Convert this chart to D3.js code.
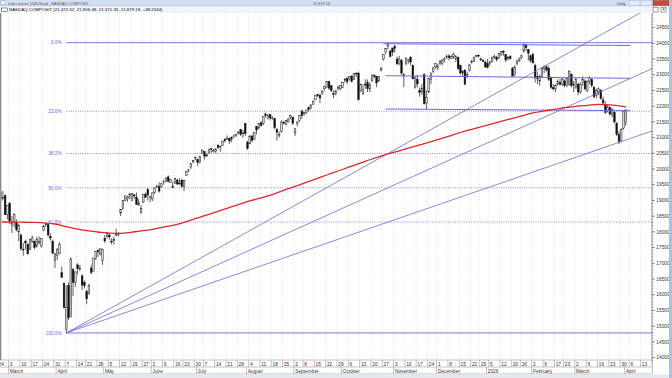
<!DOCTYPE html>
<html>
<head>
<meta charset="utf-8">
<title>NASDAQ COMPOSIT - Daily</title>
<script src="https://d3js.org/d3.v7.min.js"></script>
<style>
  body { margin: 0; background: #fff; }
  svg { display: block; font-family: "Liberation Sans", Arial, sans-serif; }
</style>
</head>
<body>
<div id="chart"></div>
<script>
// daily candles: [date, open, high, low, close]
const q1_2025 = [
  ["2025-02-24",19600,19620,19260,19287],["2025-02-25",19270,19300,18900,19026],["2025-02-26",19100,19300,19000,19075],
  ["2025-02-27",19150,19200,18540,18544],["2025-02-28",18550,18850,18400,18847],["2025-03-03",18900,18950,18250,18350],
  ["2025-03-04",18200,18500,17960,18285],["2025-03-05",18300,18600,18150,18553],["2025-03-06",18300,18400,18020,18069],
  ["2025-03-07",18000,18250,17700,18196],["2025-03-10",17900,17950,17400,17468],["2025-03-11",17450,17650,17240,17436],
  ["2025-03-12",17700,17750,17450,17648],["2025-03-13",17600,17650,17280,17303],["2025-03-14",17450,17780,17420,17754],
  ["2025-03-17",17700,17880,17650,17808],["2025-03-18",17700,17720,17450,17504],["2025-03-19",17550,17850,17500,17750],
  ["2025-03-20",17650,17850,17600,17692],["2025-03-21",17550,17800,17500,17784],["2025-03-24",18050,18210,18020,18188],
  ["2025-03-25",18220,18290,18160,18272],["2025-03-26",18240,18250,17850,17900],["2025-03-27",17850,17950,17720,17804],
  ["2025-03-28",17700,17750,17300,17323],["2025-03-31",17100,17330,16850,17299]
];
const q2_2025 = [
  ["2025-04-01",17250,17480,17100,17450],["2025-04-02",17300,17670,17300,17601],["2025-04-03",16700,16900,16540,16551],
  ["2025-04-04",16350,16400,15580,15588],["2025-04-07",14900,16300,14784,15603],["2025-04-08",16300,16400,15200,15268],
  ["2025-04-09",15300,17200,15270,17125],["2025-04-10",16800,16850,15950,16387],["2025-04-11",16400,16750,16250,16724],
  ["2025-04-14",16950,17000,16650,16831],["2025-04-15",16850,16950,16750,16823],["2025-04-16",16600,16650,16150,16307],
  ["2025-04-17",16400,16450,16200,16286],["2025-04-21",16100,16150,15700,15871],["2025-04-22",16050,16350,16000,16300],
  ["2025-04-23",16850,16950,16650,16708],["2025-04-24",16750,17180,16750,17166],["2025-04-25",17150,17390,17100,17383],
  ["2025-04-28",17400,17450,17200,17366],["2025-04-29",17300,17480,17250,17461],["2025-04-30",17100,17470,16950,17446],
  ["2025-05-01",17800,17900,17650,17710],["2025-05-02",17850,18000,17800,17977],["2025-05-05",17900,17950,17750,17844],
  ["2025-05-06",17700,17800,17600,17690],["2025-05-07",17750,17850,17600,17738],["2025-05-08",17900,18100,17850,17928],
  ["2025-05-09",17950,18000,17850,17929],["2025-05-12",18600,18710,18500,18708],["2025-05-13",18750,19010,18700,18997],
  ["2025-05-14",19000,19150,18980,19146],["2025-05-15",19050,19150,18950,19112],["2025-05-16",19130,19220,19050,19211],
  ["2025-05-19",19000,19230,18990,19215],["2025-05-20",19180,19200,19050,19143],["2025-05-21",19100,19250,18850,18873],
  ["2025-05-22",18850,19050,18850,18925],["2025-05-23",18600,18850,18600,18737],["2025-05-27",18950,19200,18920,19199],
  ["2025-05-28",19200,19260,19090,19101],["2025-05-29",19350,19400,19000,19175],["2025-05-30",19100,19150,18950,19114],
  ["2025-06-02",19050,19250,18980,19243],["2025-06-03",19250,19420,19200,19399],["2025-06-04",19420,19500,19400,19460],
  ["2025-06-05",19450,19580,19250,19298],["2025-06-06",19450,19560,19400,19530],["2025-06-09",19580,19650,19500,19591],
  ["2025-06-10",19600,19730,19580,19715],["2025-06-11",19750,19800,19570,19615],["2025-06-12",19580,19680,19560,19662],
  ["2025-06-13",19450,19600,19380,19407],["2025-06-16",19550,19720,19540,19701],["2025-06-17",19650,19680,19500,19521],
  ["2025-06-18",19550,19700,19500,19546],["2025-06-20",19650,19680,19400,19447],["2025-06-23",19450,19650,19300,19631],
  ["2025-06-24",19800,19930,19780,19913],["2025-06-25",19960,20000,19900,19974],["2025-06-26",20050,20180,20000,20168],
  ["2025-06-27",20230,20290,20180,20273],["2025-06-30",20350,20400,20280,20370]
];
const q3_2025 = [
  ["2025-07-01",20300,20330,20100,20202],["2025-07-02",20200,20400,20180,20393],["2025-07-03",20500,20620,20480,20601],
  ["2025-07-07",20550,20580,20300,20412],["2025-07-08",20450,20500,20380,20418],["2025-07-09",20500,20650,20480,20611],
  ["2025-07-10",20650,20660,20520,20630],["2025-07-11",20550,20640,20520,20585],["2025-07-14",20560,20650,20500,20640],
  ["2025-07-15",20750,20800,20650,20677],["2025-07-16",20700,20740,20550,20730],["2025-07-17",20750,20900,20740,20885],
  ["2025-07-18",20950,20980,20850,20896],["2025-07-21",20950,21070,20940,20974],["2025-07-22",20980,21000,20800,20892],
  ["2025-07-23",20950,21030,20850,21020],["2025-07-24",21050,21100,20980,21057],["2025-07-25",21080,21110,21020,21108],
  ["2025-07-28",21150,21200,21100,21178],["2025-07-29",21250,21280,21050,21098],["2025-07-30",21150,21250,20990,21130],
  ["2025-07-31",21450,21460,21050,21122],["2025-08-01",20850,20900,20620,20650],["2025-08-04",20800,21060,20790,21053],
  ["2025-08-05",21050,21100,20850,20916],["2025-08-06",20950,21180,20920,21169],["2025-08-07",21350,21370,21100,21242],
  ["2025-08-08",21300,21460,21280,21450],["2025-08-11",21470,21520,21350,21385],["2025-08-12",21450,21690,21400,21681],
  ["2025-08-13",21750,21800,21650,21713],["2025-08-14",21600,21750,21580,21711],["2025-08-15",21730,21750,21550,21623],
  ["2025-08-18",21600,21680,21570,21630],["2025-08-19",21600,21620,21270,21315],["2025-08-20",21250,21300,20900,21172],
  ["2025-08-21",21100,21200,21000,21100],["2025-08-22",21200,21550,21150,21497],["2025-08-25",21480,21530,21420,21449],
  ["2025-08-26",21420,21560,21400,21544],["2025-08-27",21500,21620,21480,21590],["2025-08-28",21650,21730,21580,21705],
  ["2025-08-29",21650,21670,21400,21456],["2025-09-02",21150,21300,21050,21280],["2025-09-03",21450,21520,21350,21498],
  ["2025-09-04",21550,21710,21500,21707],["2025-09-05",21850,21880,21600,21700],["2025-09-08",21750,21820,21700,21798],
  ["2025-09-09",21800,21880,21750,21879],["2025-09-10",21950,21990,21820,21886],["2025-09-11",21920,22050,21900,22043],
  ["2025-09-12",22050,22180,22050,22141],["2025-09-15",22200,22360,22200,22349],["2025-09-16",22370,22390,22290,22333],
  ["2025-09-17",22340,22400,22100,22261],["2025-09-18",22400,22520,22350,22471],["2025-09-19",22550,22650,22500,22631],
  ["2025-09-22",22600,22800,22580,22789],["2025-09-23",22780,22810,22520,22573],["2025-09-24",22650,22670,22450,22497],
  ["2025-09-25",22400,22500,22250,22385],["2025-09-26",22400,22520,22340,22484],["2025-09-29",22560,22650,22500,22591],
  ["2025-09-30",22550,22670,22500,22660]
];
const q4_2025 = [
  ["2025-10-01",22600,22780,22580,22755],["2025-10-02",22850,22900,22750,22844],["2025-10-03",22880,22930,22700,22780],
  ["2025-10-06",22880,22960,22820,22941],["2025-10-07",22960,22980,22750,22788],["2025-10-08",22850,23050,22840,23044],
  ["2025-10-09",23050,23080,22930,23024],["2025-10-10",23050,23100,22180,22204],["2025-10-13",22500,22720,22450,22695],
  ["2025-10-14",22400,22700,22350,22521],["2025-10-15",22700,22850,22550,22670],["2025-10-16",22750,22850,22450,22562],
  ["2025-10-17",22550,22750,22450,22680],["2025-10-20",22800,23000,22780,22991],["2025-10-21",22980,23020,22880,22953],
  ["2025-10-22",22950,22970,22600,22740],["2025-10-23",22800,22960,22780,22942],["2025-10-24",23150,23250,23100,23205],
  ["2025-10-27",23500,23650,23450,23637],["2025-10-28",23700,23850,23650,23827],["2025-10-29",23900,24020,23800,23958],
  ["2025-10-30",23750,23800,23550,23581],["2025-10-31",23850,23860,23600,23725],["2025-11-03",23900,23950,23700,23835],
  ["2025-11-04",23500,23580,23300,23349],["2025-11-05",23350,23600,23300,23500],["2025-11-06",23450,23500,23000,23054],
  ["2025-11-07",22950,23050,22600,23005],["2025-11-10",23350,23550,23300,23528],["2025-11-11",23450,23500,23350,23468],
  ["2025-11-12",23550,23590,23300,23406],["2025-11-13",23300,23330,22850,22871],["2025-11-14",22600,22950,22560,22901],
  ["2025-11-17",22850,23000,22600,22709],["2025-11-18",22500,22600,22300,22433],["2025-11-19",22450,22700,22350,22564],
  ["2025-11-20",23000,23050,22050,22078],["2025-11-21",22100,22500,21900,22273],["2025-11-24",22450,22900,22420,22873],
  ["2025-11-25",22850,23080,22700,23026],["2025-11-26",23100,23250,23050,23215],["2025-11-28",23250,23370,23200,23366],
  ["2025-12-01",23200,23350,23150,23276],["2025-12-02",23350,23480,23300,23414],["2025-12-03",23350,23500,23300,23454],
  ["2025-12-04",23500,23550,23400,23506],["2025-12-05",23550,23650,23500,23578],["2025-12-08",23600,23650,23450,23546],
  ["2025-12-09",23520,23620,23500,23576],["2025-12-10",23580,23700,23500,23654],["2025-12-11",23500,23620,23400,23594],
  ["2025-12-12",23550,23580,23150,23195],["2025-12-15",23300,23320,23000,23057],["2025-12-16",23050,23150,22950,23111],
  ["2025-12-17",23150,23180,22690,22693],["2025-12-18",23000,23100,22900,23006],["2025-12-19",23150,23350,23100,23307],
  ["2025-12-22",23400,23480,23350,23428],["2025-12-23",23420,23570,23400,23562],["2025-12-24",23580,23620,23550,23613],
  ["2025-12-26",23620,23650,23550,23593],["2025-12-29",23500,23550,23430,23474],["2025-12-30",23450,23500,23400,23419],
  ["2025-12-31",23400,23450,23230,23242]
];
const q1_2026 = [
  ["2026-01-02",23350,23500,23200,23240],["2026-01-05",23350,23450,23280,23395],["2026-01-06",23420,23570,23380,23547],
  ["2026-01-07",23550,23650,23500,23584],["2026-01-08",23550,23600,23420,23480],["2026-01-09",23520,23680,23500,23671],
  ["2026-01-12",23650,23760,23600,23733],["2026-01-13",23750,23780,23600,23710],["2026-01-14",23650,23660,23400,23471],
  ["2026-01-15",23550,23600,23450,23530],["2026-01-16",23580,23620,23480,23515],["2026-01-20",23200,23250,22950,22954],
  ["2026-01-21",23000,23300,22950,23224],["2026-01-22",23350,23480,23300,23436],["2026-01-23",23450,23550,23400,23501],
  ["2026-01-26",23550,23650,23500,23601],["2026-01-27",23750,24010,23700,23950],["2026-01-28",23950,23980,23750,23860],
  ["2026-01-29",23800,23820,23450,23685],["2026-01-30",23600,23650,23380,23461],["2026-02-02",23650,23700,23350,23380],
  ["2026-02-03",23300,23350,22750,22900],["2026-02-04",22950,23100,22700,22880],["2026-02-05",22800,23000,22650,22950],
  ["2026-02-06",22950,23250,22900,23200],["2026-02-09",23200,23300,23050,23250],["2026-02-10",23250,23300,23100,23150],
  ["2026-02-11",23200,23280,22800,22850],["2026-02-12",22900,22950,22550,22600],["2026-02-13",22600,22700,22500,22550],
  ["2026-02-17",22550,22700,22450,22650],["2026-02-18",22700,22850,22650,22780],["2026-02-19",22750,22880,22650,22700],
  ["2026-02-20",22700,22900,22650,22860],["2026-02-23",22800,22850,22600,22650],["2026-02-24",22650,22900,22600,22880],
  ["2026-02-25",22700,23150,22650,23100],["2026-02-26",23000,23050,22600,22650],["2026-02-27",22650,22800,22450,22700],
  ["2026-03-02",22600,22900,22550,22850],["2026-03-03",22700,22750,22350,22450],["2026-03-04",22450,22750,22400,22700],
  ["2026-03-05",22750,22950,22650,22850],["2026-03-06",22800,22850,22500,22550],["2026-03-09",22500,22820,22450,22780],
  ["2026-03-10",22800,22950,22700,22900],["2026-03-11",22850,22880,22600,22650],["2026-03-12",22600,22650,22250,22300],
  ["2026-03-13",22350,22550,22250,22500],["2026-03-16",22450,22600,22350,22550],["2026-03-17",22500,22550,22200,22250],
  ["2026-03-18",22200,22300,22050,22100],["2026-03-19",22050,22150,21750,21800],["2026-03-20",21850,22050,21800,21950],
  ["2026-03-23",21950,22000,21700,21750],["2026-03-24",21750,21950,21650,21900],["2026-03-25",21800,21850,21450,21500],
  ["2026-03-26",21450,21500,21050,21100],["2026-03-27",21100,21200,20790,20880],["2026-03-30",20900,21300,20850,21250],
  ["2026-03-31",21300,21850,21250,21841],["2026-04-01",21472.52,21906.48,21371.33,21879.18]
];

// 200-day average, one value per week start (last one at the final candle)
const maValues = [
  18314,18314,18308,18302,18289,18251,18165,18089,18041,17996,17958,17951,17993,18037,18082,18152,18225,18305,18422,18515,
  18632,18750,18868,18983,19081,19186,19323,19447,19552,19680,19810,19937,20065,20192,20319,20437,20541,20643,20745,20850,
  20936,21047,21162,21264,21343,21420,21515,21614,21690,21786,21849,21903,21951,21996,22027,22059,22043,21999,21973
];

const holidays = ["2025-04-18","2025-05-26","2025-06-19","2025-07-04","2025-09-01","2025-11-27","2025-12-25",
                  "2026-01-01","2026-01-19","2026-02-16","2026-04-03"];
const monthNames = ["2026","February","March","April","May","June","July","August","September","October","November","December"];
const priceTicks = [14000,14500,15000,15500,16000,16500,17000,17500,18000,18500,19000,19500,20000,20500,21000,21500,22000,22500,23000,23500,24000,24500];

const swingLow = { date: "2025-04-07", price: 14784 };
const swingHigh = { date: "2025-10-29", price: 24020 };
const fibLevels = [0, 0.236, 0.382, 0.5, 0.618, 1];
const fibLabels = ["0.0%", "23.6%", "38.2%", "50.0%", "61.8%", "100.0%"];
const fanLevels = [0.382, 0.5, 0.618];
// hand drawn lines: [from date, price, to date, price]
const trendLines = [
  ["2025-10-27", 23985, "2026-04-06", 23930],
  ["2025-10-28", 22969, "2026-04-06", 22886],
  ["2025-10-28", 21910, "2026-04-06", 21856]
];

const titleText = "Indici marzo 2026.Nasd - NASDAQ COMPOSIT";
const lastText = "21,879.18";
const legendText = "NASDAQ COMPOSIT (21,472.52, 21,906.48, 21,371.33, 21,879.18, +38.2344)";

const W = 672, H = 378;
const plot = { left: 1.5, right: 652, top: 13, bottom: 360 };
const blue = "#6b6be0";

const fmt = d3.utcFormat("%Y-%m-%d");
const parse = d3.utcParse("%Y-%m-%d");
const days = d3.utcDay.range(parse("2025-02-24"), parse("2026-04-21"))
  .filter(d => d.getUTCDay() > 0 && d.getUTCDay() < 6 && !holidays.includes(fmt(d)))
  .map(fmt);

const candles = [].concat(q1_2025, q2_2025, q3_2025, q4_2025, q1_2026);

const x = d3.scaleBand().domain(days).range([-2.8, -2.8 + days.length * 2.265]);
const cx = d => x(d) + x.bandwidth() / 2;
const y = d3.scaleLinear().domain([14000, 24000]).range([357.6, 43.3]);

// week and month starts
const weekStarts = days.filter((d, i) => i === 0 ||
  +d3.utcMonday.floor(parse(d)) !== +d3.utcMonday.floor(parse(days[i - 1])));
const monthStarts = days.filter((d, i) => i > 0 && d.slice(0, 7) !== days[i - 1].slice(0, 7));

const svg = d3.select("#chart").append("svg")
  .attr("width", W).attr("height", H);

svg.append("rect").attr("width", W).attr("height", H).attr("fill", "#fff");

// title bars
svg.append("rect").attr("x", 0).attr("y", 0).attr("width", W).attr("height", 6).attr("fill", "#d3e0f1");
svg.append("line").attr("x1", 0).attr("x2", W).attr("y1", 6).attr("y2", 6).attr("stroke", "#a3b9d8").attr("stroke-width", 0.8);
svg.append("rect").attr("x", 0).attr("y", 6.4).attr("width", W).attr("height", 6.6).attr("fill", "#f1f4f9");
svg.append("rect").attr("x", 1).attr("y", 0.8).attr("width", 4).attr("height", 4).attr("fill", "#fff").attr("stroke", "#777").attr("stroke-width", 0.4);
svg.append("text").attr("x", 8).attr("y", 4.6).attr("font-size", 3.8).attr("fill", "#555").text(titleText);
svg.append("text").attr("x", 313).attr("y", 4.6).attr("font-size", 3.8).attr("fill", "#555").text(lastText);
svg.append("text").attr("x", 617).attr("y", 4.6).attr("font-size", 3.8).attr("fill", "#444").text("Daily");
[[629, "#e3ebf6"], [641, "#e3ebf6"]].forEach(([bx, c]) =>
  svg.append("rect").attr("x", bx).attr("y", 0.5).attr("width", 11).attr("height", 5).attr("fill", c).attr("stroke", "#9fb3cf").attr("stroke-width", 0.4));
svg.append("rect").attr("x", 653).attr("y", 0.5).attr("width", 16).attr("height", 5).attr("fill", "#c8483a").attr("stroke", "#8a2a20").attr("stroke-width", 0.4);
svg.append("rect").attr("x", 1.5).attr("y", 8).attr("width", 6).attr("height", 3.5).attr("fill", "#fff").attr("stroke", "#333").attr("stroke-width", 0.5);
svg.append("text").attr("x", 9).attr("y", 11.3).attr("font-size", 4.4).attr("fill", "#111").text(legendText);
svg.append("rect").attr("x", 653).attr("y", 7.5).attr("width", 5).attr("height", 4.5).attr("fill", "#fff").attr("stroke", "#555").attr("stroke-width", 0.5);
svg.append("rect").attr("x", 661).attr("y", 7.5).attr("width", 5).attr("height", 4.5).attr("fill", "#fff").attr("stroke", "#555").attr("stroke-width", 0.5);
svg.append("text").attr("x", 663.5).attr("y", 11.4).attr("font-size", 4.5).attr("text-anchor", "middle").attr("fill", "#222").text("×");

// plot area
svg.append("clipPath").attr("id", "clip").append("rect")
  .attr("x", plot.left).attr("y", plot.top)
  .attr("width", plot.right - plot.left).attr("height", plot.bottom - plot.top);
const g = svg.append("g").attr("clip-path", "url(#clip)");

g.selectAll("line.grid").data(weekStarts).join("line")
  .attr("class", "grid")
  .attr("x1", d => x(d)).attr("x2", d => x(d))
  .attr("y1", plot.top).attr("y2", plot.bottom)
  .attr("stroke", "#c9c9c9").attr("stroke-width", 0.6).attr("stroke-dasharray", "1,2");

// candles
const bw = 1.7;
g.selectAll("line.wick").data(candles).join("line")
  .attr("class", "wick")
  .attr("x1", d => cx(d[0])).attr("x2", d => cx(d[0]))
  .attr("y1", d => y(d[2])).attr("y2", d => y(d[3]))
  .attr("stroke", "#1a1a1a").attr("stroke-width", 0.7);
g.selectAll("rect.body").data(candles).join("rect")
  .attr("class", "body")
  .attr("x", d => cx(d[0]) - bw / 2)
  .attr("y", d => y(Math.max(d[1], d[4])))
  .attr("width", bw)
  .attr("height", d => Math.max(0.7, Math.abs(y(d[1]) - y(d[4]))))
  .attr("fill", d => d[4] >= d[1] ? "#d6d6d6" : "#111")
  .attr("stroke", "#1a1a1a").attr("stroke-width", 0.45);

// fibonacci retracement
const range = swingHigh.price - swingLow.price;
const lowX = cx(swingLow.date), highX = cx(swingHigh.date);
fibLevels.forEach((f, i) => {
  const v = swingHigh.price - f * range;
  const solid = f === 0 || f === 1;
  g.append("line")
    .attr("x1", lowX).attr("x2", plot.right)
    .attr("y1", y(v)).attr("y2", y(v))
    .attr("stroke", blue).attr("stroke-width", solid ? 0.9 : 0.8)
    .attr("stroke-dasharray", solid ? null : "1,1.3");
  svg.append("text")
    .attr("x", lowX - 4.5).attr("y", y(v) + 1.7)
    .attr("text-anchor", "end").attr("font-size", 4.8)
    .attr("fill", blue).text(fibLabels[i]);
});

// fibonacci fan from the low
fanLevels.forEach(f => {
  const v = swingHigh.price - f * range;
  const slope = (y(v) - y(swingLow.price)) / (highX - lowX);
  g.append("line")
    .attr("x1", lowX).attr("y1", y(swingLow.price))
    .attr("x2", plot.right).attr("y2", y(swingLow.price) + slope * (plot.right - lowX))
    .attr("stroke", blue).attr("stroke-width", 0.8);
});

trendLines.forEach(t => {
  g.append("line")
    .attr("x1", cx(t[0])).attr("y1", y(t[1]))
    .attr("x2", cx(t[2])).attr("y2", y(t[3]))
    .attr("stroke", blue).attr("stroke-width", 1);
});

// moving average
const maPoints = weekStarts.slice(0, maValues.length - 1).map((d, i) => [d, maValues[i]]);
maPoints.push([candles[candles.length - 1][0], maValues[maValues.length - 1]]);
g.append("path")
  .datum(maPoints)
  .attr("fill", "none").attr("stroke", "#e0282a").attr("stroke-width", 1.3)
  .attr("d", d3.line().x(d => cx(d[0])).y(d => y(d[1])).curve(d3.curveMonotoneX));

// left border
svg.append("line").attr("x1", 0.7).attr("x2", 0.7).attr("y1", plot.top).attr("y2", 374)
  .attr("stroke", "#8c8c8c").attr("stroke-width", 1.4);

// right price axis
const ya = svg.append("g");
ya.append("line").attr("x1", plot.right).attr("x2", plot.right).attr("y1", plot.top).attr("y2", 374)
  .attr("stroke", "#666").attr("stroke-width", 0.7);
ya.selectAll("line.minor").data(d3.range(13900, 25000, 100)).join("line")
  .attr("class", "minor")
  .attr("x1", plot.right).attr("x2", plot.right + 1.5)
  .attr("y1", d => y(d)).attr("y2", d => y(d))
  .attr("stroke", "#777").attr("stroke-width", 0.5);
ya.selectAll("line.major").data(priceTicks).join("line")
  .attr("class", "major")
  .attr("x1", plot.right).attr("x2", plot.right + 3)
  .attr("y1", d => y(d)).attr("y2", d => y(d))
  .attr("stroke", "#555").attr("stroke-width", 0.6);
ya.selectAll("text").data(priceTicks).join("text")
  .attr("x", plot.right + 4.3).attr("y", d => y(d) + 1.7)
  .attr("font-size", 4.8).attr("fill", "#333").text(d => d);

// date axis
const xa = svg.append("g");
xa.append("rect").attr("x", 0).attr("y", 360).attr("width", plot.right).attr("height", 14).attr("fill", "#fff");
[360, 367, 374].forEach(yy =>
  xa.append("line").attr("x1", 0).attr("x2", plot.right).attr("y1", yy).attr("y2", yy)
    .attr("stroke", "#999").attr("stroke-width", 0.6));
svg.append("clipPath").attr("id", "clipx").append("rect")
  .attr("x", 0).attr("y", 358).attr("width", plot.right).attr("height", 20);
const xl = xa.append("g").attr("clip-path", "url(#clipx)");
xl.selectAll("line.wk").data(weekStarts).join("line")
  .attr("class", "wk")
  .attr("x1", d => x(d)).attr("x2", d => x(d)).attr("y1", 360).attr("y2", 367)
  .attr("stroke", "#999").attr("stroke-width", 0.6);
xl.selectAll("text.wk").data(weekStarts).join("text")
  .attr("class", "wk")
  .attr("x", d => x(d) + 1.3).attr("y", 365.6)
  .attr("font-size", 4.8).attr("fill", "#333")
  .text(d => +d.slice(8, 10));
xl.selectAll("line.mo").data(monthStarts).join("line")
  .attr("class", "mo")
  .attr("x1", d => x(d)).attr("x2", d => x(d)).attr("y1", 367).attr("y2", 374)
  .attr("stroke", "#999").attr("stroke-width", 0.6);
xl.selectAll("text.mo").data(monthStarts).join("text")
  .attr("class", "mo")
  .attr("x", d => x(d) + 1.3).attr("y", 372.6)
  .attr("font-size", 4.8).attr("fill", "#333")
  .text(d => monthNames[+d.slice(5, 7) - 1]);

// status strip and window border
svg.append("rect").attr("x", 0).attr("y", 374.5).attr("width", W).attr("height", 3.5).attr("fill", "#e4e9f0");
svg.append("rect").attr("x", 669).attr("y", 0).attr("width", 3).attr("height", H).attr("fill", "#aac2e2");
</script>
</body>
</html>
